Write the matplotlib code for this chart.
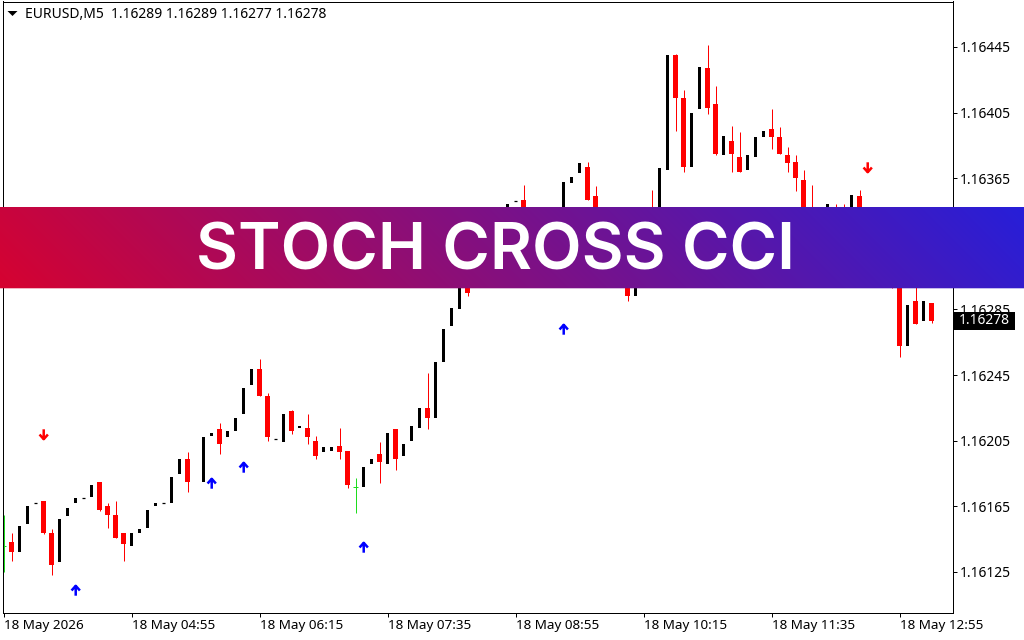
import numpy as np
import matplotlib as mpl
mpl.use('Agg')
import matplotlib.pyplot as plt
import matplotlib.ticker as tick
from matplotlib.path import Path
from matplotlib.patches import Rectangle

W, H = 1024, 640

#--------------------------------------------------------------------------------------------------------
# EURUSD M5 candles. nan = bar that is not visible.
# Candles behind the banner are estimates.

n = np.nan
vecOpen = [
    1.16141, 1.16143, 1.16137, 1.16154, 1.16167, 1.16168, 1.16149, 1.16131, 1.16159, 1.16167,
    1.16170, 1.16171, 1.16180, 1.16165, 1.16160, 1.16149, 1.16141, 1.16149, 1.16152, 1.16165,
    1.16167, 1.16167, 1.16185, 1.16194, n,       1.16180, 1.16208, 1.16212, 1.16207, 1.16211,
    1.16221, 1.16239, 1.16249, 1.16232, 1.16206, 1.16204, 1.16223, 1.16213, 1.16213, 1.16205,
    1.16198, 1.16199, 1.16202, 1.16199, 1.16177, 1.16177, 1.16191, 1.16197, 1.16191, 1.16212,
    1.16196, 1.16205, 1.16213, 1.16225, 1.16219, 1.16253, 1.16275, 1.16285, 1.16302, 1.16300,
    1.16312, 1.16323, 1.16333, 1.16325, 1.16351, 1.16352, 1.16335, 1.16342, 1.16335, 1.16345,
    1.16340, 1.16362, 1.16368, 1.16372, 1.16354, 1.16330, 1.16340, 1.16320, 1.16305, 1.16293,
    1.16310, 1.16340, 1.16330, 1.16370, 1.16440, 1.16414, 1.16372, 1.16407, 1.16432, 1.16410,
    1.16379, 1.16388, 1.16378, 1.16370, 1.16378, 1.16390, 1.16395, 1.16390, 1.16379, 1.16375,
    1.16364, 1.16345, 1.16335, 1.16335, 1.16343, 1.16340, 1.16334, 1.16354, 1.16330, 1.16338,
    1.16325, 1.16310, 1.16303, 1.16263, 1.16290, 1.16278, 1.16289]
vecHigh = [
    1.16160, 1.16149, 1.16153, 1.16165, 1.16167, 1.16168, 1.16151, 1.16157, 1.16164, 1.16170,
    1.16170, 1.16178, 1.16180, 1.16167, 1.16168, 1.16149, 1.16149, 1.16151, 1.16163, 1.16167,
    1.16167, 1.16183, 1.16194, 1.16198, n,       1.16207, 1.16210, 1.16216, 1.16211, 1.16219,
    1.16237, 1.16249, 1.16255, 1.16234, 1.16206, 1.16221, 1.16224, 1.16214, 1.16221, 1.16208,
    1.16201, 1.16201, 1.16213, 1.16199, 1.16182, 1.16189, 1.16194, 1.16204, 1.16210, 1.16212,
    1.16203, 1.16214, 1.16225, 1.16246, 1.16253, 1.16273, 1.16286, 1.16300, 1.16304, 1.16312,
    1.16325, 1.16333, 1.16337, 1.16349, 1.16351, 1.16361, 1.16342, 1.16344, 1.16345, 1.16347,
    1.16363, 1.16366, 1.16374, 1.16375, 1.16360, 1.16340, 1.16342, 1.16322, 1.16310, 1.16310,
    1.16335, 1.16358, 1.16371, 1.16440, 1.16441, 1.16419, 1.16405, 1.16433, 1.16446, 1.16421,
    1.16391, 1.16397, 1.16393, 1.16379, 1.16390, 1.16394, 1.16407, 1.16396, 1.16384, 1.16379,
    1.16370, 1.16361, 1.16342, 1.16349, 1.16349, 1.16349, 1.16355, 1.16358, 1.16338, 1.16340,
    1.16327, 1.16320, 1.16305, 1.16288, 1.16302, 1.16290, 1.16289]
vecLow = [
    1.16125, 1.16132, 1.16137, 1.16154, 1.16167, 1.16148, 1.16123, 1.16131, 1.16159, 1.16167,
    1.16170, 1.16171, 1.16162, 1.16152, 1.16146, 1.16132, 1.16141, 1.16149, 1.16152, 1.16165,
    1.16167, 1.16167, 1.16185, 1.16174, n,       1.16180, 1.16208, 1.16197, 1.16207, 1.16211,
    1.16221, 1.16239, 1.16232, 1.16205, 1.16206, 1.16204, 1.16209, 1.16213, 1.16203, 1.16194,
    1.16198, 1.16199, 1.16194, 1.16176, 1.16161, 1.16177, 1.16191, 1.16179, 1.16191, 1.16187,
    1.16196, 1.16205, 1.16213, 1.16212, 1.16219, 1.16253, 1.16275, 1.16285, 1.16293, 1.16300,
    1.16312, 1.16323, 1.16322, 1.16325, 1.16351, 1.16330, 1.16335, 1.16333, 1.16335, 1.16336,
    1.16340, 1.16362, 1.16368, 1.16352, 1.16325, 1.16330, 1.16318, 1.16303, 1.16290, 1.16293,
    1.16310, 1.16325, 1.16330, 1.16370, 1.16394, 1.16369, 1.16372, 1.16407, 1.16404, 1.16379,
    1.16379, 1.16369, 1.16369, 1.16370, 1.16378, 1.16390, 1.16383, 1.16380, 1.16369, 1.16357,
    1.16335, 1.16328, 1.16335, 1.16335, 1.16330, 1.16330, 1.16334, 1.16325, 1.16330, 1.16323,
    1.16308, 1.16298, 1.16256, 1.16263, 1.16276, 1.16278, 1.16277]
vecClose = [
    1.16141, 1.16137, 1.16153, 1.16165, 1.16167, 1.16149, 1.16129, 1.16157, 1.16164, 1.16170,
    1.16170, 1.16178, 1.16163, 1.16160, 1.16146, 1.16142, 1.16149, 1.16151, 1.16163, 1.16167,
    1.16167, 1.16183, 1.16194, 1.16180, n,       1.16207, 1.16210, 1.16203, 1.16211, 1.16219,
    1.16237, 1.16249, 1.16232, 1.16207, 1.16206, 1.16221, 1.16211, 1.16214, 1.16207, 1.16196,
    1.16201, 1.16201, 1.16198, 1.16178, 1.16177, 1.16189, 1.16194, 1.16192, 1.16210, 1.16194,
    1.16203, 1.16214, 1.16225, 1.16219, 1.16253, 1.16273, 1.16286, 1.16300, 1.16295, 1.16312,
    1.16325, 1.16333, 1.16325, 1.16349, 1.16351, 1.16335, 1.16342, 1.16335, 1.16345, 1.16338,
    1.16363, 1.16366, 1.16374, 1.16352, 1.16330, 1.16340, 1.16320, 1.16305, 1.16293, 1.16310,
    1.16335, 1.16330, 1.16371, 1.16440, 1.16414, 1.16372, 1.16405, 1.16433, 1.16408, 1.16380,
    1.16391, 1.16380, 1.16369, 1.16379, 1.16390, 1.16394, 1.16390, 1.16380, 1.16374, 1.16365,
    1.16338, 1.16335, 1.16342, 1.16349, 1.16336, 1.16334, 1.16355, 1.16330, 1.16338, 1.16325,
    1.16310, 1.16303, 1.16263, 1.16288, 1.16276, 1.16290, 1.16278]

# indicator arrows: bar index and price
upIdx    = [9, 26, 30, 45, 70]
upPrice  = [1.16114, 1.16179, 1.16189, 1.16140, 1.16273]
dnIdx    = [5, 108]
dnPrice  = [1.16209, 1.16372]

yTicks = [1.16125, 1.16165, 1.16205, 1.16245, 1.16285, 1.16325, 1.16365, 1.16405, 1.16445]
xTicks = [0, 16, 32, 48, 64, 80, 96, 112]
xLabels = ['18 May 2026', '18 May 04:55', '18 May 06:15', '18 May 07:35',
           '18 May 08:55', '18 May 10:15', '18 May 11:35', '18 May 12:55']
header = 'EURUSD,M5  1.16289 1.16289 1.16277 1.16278'
lastPrice = 1.16278

#--------------------------------------------------------------------------------------------------------

FONT = 'Noto Sans'
PX_PER_PRICE = 164062
fig = plt.figure(figsize=(W/100, H/100), dpi=100, facecolor='white')
ax1 = fig.add_axes([2.5/W, 1-612.5/H, 950/W, 611/H])

# pixels: x = 3.5 + 8*bar, y = 47 + (1.16445-price)*PX_PER_PRICE
ax1.set_xlim(-0.125, 118.625)
ax1.set_ylim(1.16445-(612.5-47)/PX_PER_PRICE, 1.16445+(47-1.5)/PX_PER_PRICE)

for i in range(len(vecOpen)):
    o, h, l, c = vecOpen[i], vecHigh[i], vecLow[i], vecClose[i]
    if np.isnan(o): continue
    if o == c:
        if h > l:  # doji
            ax1.vlines(i, l, h, color='#1edc1e', linewidth=0.72)
            ax1.hlines(c, i-0.31, i+0.31, color='#1edc1e', linewidth=0.72)
        else:
            ax1.hlines(c, i-0.19, i+0.19, color='k', linewidth=0.9)
    elif c > o:
        ax1.bar(i, c-o, bottom=o, width=0.375, color='k', linewidth=0)
    else:
        ax1.vlines(i, l, h, color='#ff0000', linewidth=0.72)
        ax1.bar(i, o-c, bottom=c, width=0.625, color='#ff0000', linewidth=0)

# arrows sit a little left of the bar centre
arrowUp = Path([(-0.15, -1), (-0.15, 0.9), (-0.95, 0.0), (-0.15, 0.9), (0.65, 0.0)],
               [Path.MOVETO, Path.LINETO, Path.MOVETO, Path.LINETO, Path.LINETO])
arrowDn = Path([(-0.15, 1), (-0.15, -0.9), (-0.95, 0.0), (-0.15, -0.9), (0.65, 0.0)],
               [Path.MOVETO, Path.LINETO, Path.MOVETO, Path.LINETO, Path.LINETO])
ax1.plot(upIdx, upPrice, linestyle='none', marker=arrowUp, markersize=7.5, markerfacecolor='none',
         markeredgecolor='#0000ff', markeredgewidth=1.8)
ax1.plot(dnIdx, dnPrice, linestyle='none', marker=arrowDn, markersize=7.5, markerfacecolor='none',
         markeredgecolor='#ff0000', markeredgewidth=1.8)

for s in ax1.spines.values(): s.set_linewidth(0.72)
ax1.yaxis.tick_right()
ax1.yaxis.set_major_locator(tick.FixedLocator(yTicks))
ax1.yaxis.set_major_formatter(tick.FormatStrFormatter('%.5f'))
ax1.tick_params(axis='y', direction='out', length=3, width=0.72, pad=2, labelsize=10, labelfontfamily=FONT)
ax1.set_xticks(xTicks)
ax1.set_xticklabels(xLabels, ha='left', fontfamily=FONT, fontsize=9.7)
ax1.tick_params(axis='x', direction='out', length=3, width=0.72, pad=1.5)

# header
headTri = Path([(-1, 0.5), (1, 0.5), (0, -0.5), (-1, 0.5)])
ax1.plot([(12-2.5)/950], [1-(12.5-1.5)/611], transform=ax1.transAxes, marker=headTri, color='k',
         markersize=7.2, markeredgewidth=0, clip_on=False)
ax1.text(22.5/950, 1-13.2/611, header, transform=ax1.transAxes, va='center', ha='left',
         fontfamily=FONT, fontsize=10)

# last price box
ax1.add_patch(Rectangle(((954-2.5)/950, lastPrice-8.75/PX_PER_PRICE), 61/950, 17.5/PX_PER_PRICE,
                        transform=ax1.get_yaxis_transform(), facecolor='k', edgecolor='none',
                        clip_on=False, zorder=10))
ax1.annotate('1.16278', xy=(1, lastPrice), xycoords=ax1.get_yaxis_transform(), xytext=(6.5, 0),
             textcoords='offset pixels', va='center', ha='left', color='white', fontfamily=FONT,
             fontsize=10, zorder=11)

# banner on top of everything, gradient runs a bit diagonal, last row is a soft edge
axB = fig.add_axes([0, 1-289/H, 1, 82/H], zorder=20)
axB.axis('off')
left = np.array([0.84, 0.01, 0.19])
right = np.array([0.15, 0.12, 0.85])
xx, yy = np.meshgrid(np.arange(W), np.arange(82))
frac = (xx + (81-yy))/(W + 81.0)
img = np.dstack([left[j] + (right[j]-left[j])*frac for j in range(3)] + [np.ones_like(frac)])
img[81, :, 3] = 0.3
axB.imshow(img, aspect='auto', interpolation='nearest')
axB.text(0.4834, 0.445, 'STOCH CROSS CCI', color='white', ha='center', va='center',
         fontfamily='Inter', fontweight='semibold', fontsize=46.5, transform=axB.transAxes)

plt.savefig('out.png', dpi=100)
